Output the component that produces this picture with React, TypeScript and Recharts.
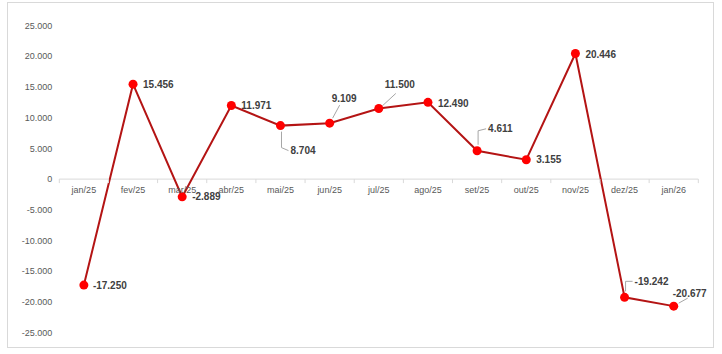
import { LineChart, Line, XAxis, YAxis, ReferenceLine, LabelList } from 'recharts';

const months = ['jan/25', 'fev/25', 'mar/25', 'abr/25', 'mai/25', 'jun/25', 'jul/25', 'ago/25', 'set/25', 'out/25', 'nov/25', 'dez/25', 'jan/26'];
const saldo = [-17250, 15456, -2889, 11971, 8704, 9109, 11500, 12490, 4611, 3155, 20446, -19242, -20677];
const yTicks = [-25000, -20000, -15000, -10000, -5000, 0, 5000, 10000, 15000, 20000, 25000];

const data = months.map((m, i) => ({ m, v: saldo[i], zero: 0 }));

// where each data label sits relative to its point, and the grey leader lines
const labelPos: [number, number][] = [
  [9, 0], [10, 0], [10, 0], [10, 0], [10, 25], [2, -25], [6, -24],
  [10, 1], [11, -22], [10, 0], [10, 1], [10, -16], [-1, -13],
];
const leaders: (number[][] | null)[] = [
  null, null, null, null,
  [[1, 6], [1, 22], [8, 25]],
  [[3, -5], [10, -18]],
  [[4, -3], [17, -15]],
  null,
  [[1, -6], [1, -20], [9, -22]],
  null, null,
  [[1, -6], [1, -16], [8, -16]],
  [[5, -3], [14, -8]],
];

const W = 722;
const H = 354;
const margin = { top: 25.5, right: 23.7, bottom: 21.3, left: 0 };
const Y_W = 59.3;
const STEP = (W - margin.left - margin.right - Y_W) / months.length;

const fmt = (v: number) => {
  const s = Math.abs(v).toString().replace(/\B(?=(\d{3})+(?!\d))/g, '.');
  return (v < 0 ? '-' : '') + s;
};

const MonthTick = (props: any) => {
  const { x, y, value, index } = props;
  const left = x - STEP / 2;
  return (
    <g>
      <line x1={left} y1={y} x2={left} y2={y + 4} stroke="#D9D9D9" />
      {index === months.length - 1 && (
        <line x1={x + STEP / 2} y1={y} x2={x + STEP / 2} y2={y + 4} stroke="#D9D9D9" />
      )}
      <text x={x} y={y + 14} textAnchor="middle" fontSize={9} fill="#595959" fontFamily="Liberation Sans, Arial, sans-serif">
        {value}
      </text>
    </g>
  );
};

const ValueLabel = (props: any) => {
  const { x, y, value, index } = props;
  const [dx, dy] = labelPos[index];
  const lead = leaders[index];
  return (
    <g>
      {lead && (
        <polyline
          points={lead.map(([a, b]) => `${x + a},${y + b}`).join(' ')}
          fill="none"
          stroke="#A6A6A6"
          strokeWidth={1}
        />
      )}
      <text
        x={x + dx}
        y={y + dy}
        dominantBaseline="central"
        fontSize={10}
        fontWeight="bold"
        fill="#404040"
        fontFamily="Liberation Sans, Arial, sans-serif"
      >
        {fmt(value)}
      </text>
    </g>
  );
};

export default function App() {
  return (
    <div style={{ position: 'absolute', left: 0, top: 0, width: W, height: H, background: '#fff' }}>
      <div
        style={{
          position: 'absolute',
          left: 7,
          top: 2,
          width: 705,
          height: 344,
          border: '1px solid #D9D9D9',
        }}
      />
      <div style={{ position: 'absolute', left: 0, top: 0 }}>
        <LineChart width={W} height={H} data={data} margin={margin}>
          <XAxis dataKey="m" hide padding={{ left: STEP / 2, right: STEP / 2 }} />
          <YAxis
            width={Y_W}
            domain={[-25000, 25000]}
            ticks={yTicks}
            tickFormatter={fmt}
            axisLine={false}
            tickLine={false}
            tickSize={5}
            tickMargin={2}
            tick={{ fontSize: 9, fill: '#595959', fontFamily: 'Liberation Sans, Arial, sans-serif' }}
            interval={0}
          />
          <ReferenceLine y={0} stroke="#D9D9D9" strokeWidth={1} />
          <Line dataKey="zero" stroke="none" dot={false} activeDot={false} isAnimationActive={false}>
            <LabelList dataKey="m" content={MonthTick} />
          </Line>
          <Line
            dataKey="v"
            stroke="#B41414"
            strokeWidth={2}
            dot={{ r: 4.5, fill: '#FF0000', stroke: 'none' }}
            activeDot={false}
            isAnimationActive={false}
          >
            <LabelList dataKey="v" content={ValueLabel} />
          </Line>
        </LineChart>
      </div>
    </div>
  );
}
